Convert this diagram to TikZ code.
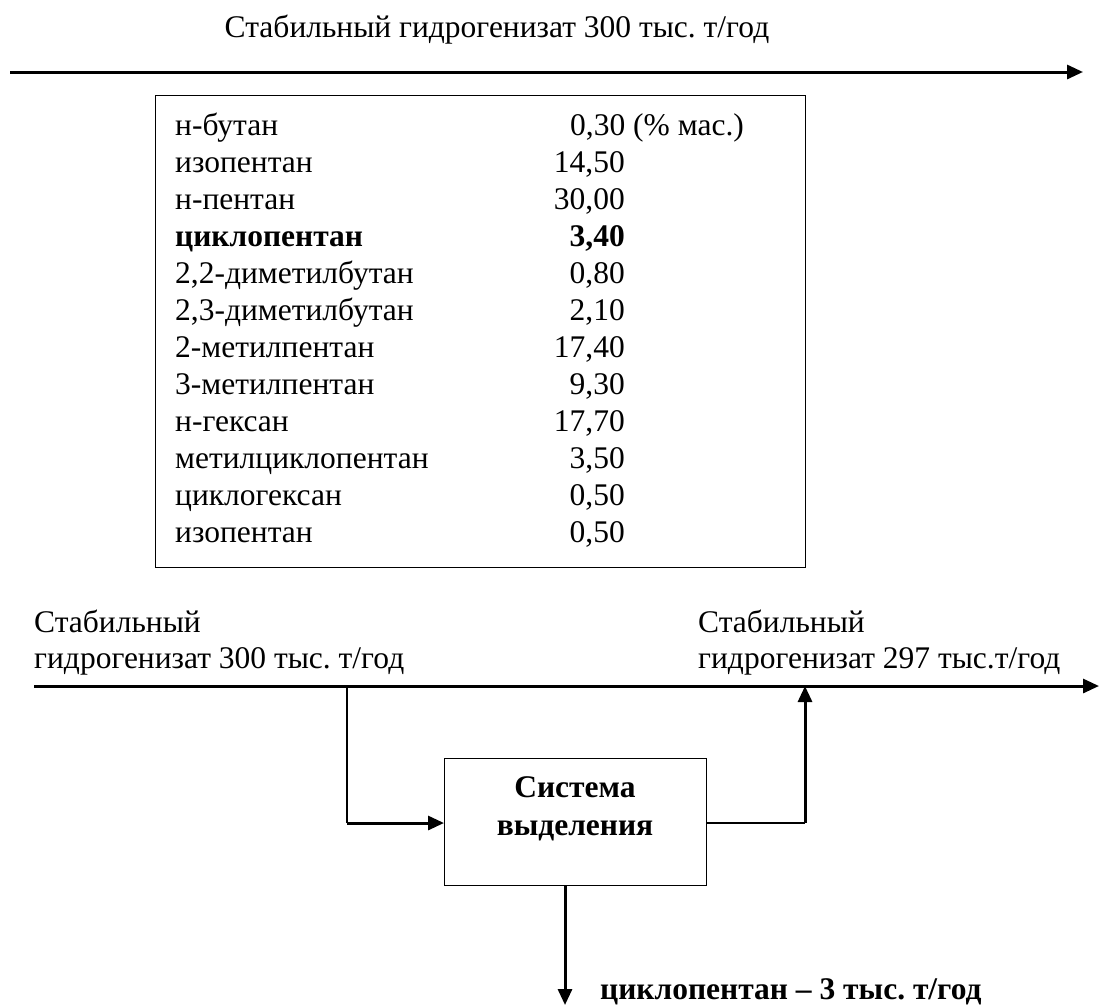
\documentclass[tikz,border=0pt]{standalone}
\usepackage{fontspec}
\setmainfont{Liberation Serif}
\usetikzlibrary{arrows.meta}
\begin{document}
\frenchspacing
\begin{tikzpicture}[x=1pt,y=-1pt,
  txt/.style={inner sep=0pt,font=\fontsize{31.5}{38}\selectfont},
  btxt/.style={inner sep=0pt,font=\fontsize{31.5}{38}\selectfont\bfseries},
  thick line/.style={line width=3pt},
  thin line/.style={line width=1.3pt},
  tip/.style={-{Triangle[length=16pt,width=14pt]}}]
\useasboundingbox (0,0) rectangle (1099,1007);
% top stream
\node[txt,anchor=base] (toplbl) at (497,37) {Стабильный гидрогенизат 300 тыс. т/год};
\coordinate (t0) at (10,72);
\coordinate (t1) at (1083,72);
\draw[thick line,tip] (t0) -- (t1);
% table
\node[draw,line width=1.3pt,minimum width=650pt,minimum height=472pt,anchor=north west,inner sep=0pt] (tab) at (155,95) {};
\node[txt,anchor=base west] (r0) at (175,135) {н-бутан};
\node[txt,anchor=base west] (v0) at (570,135) {0,30 (\% мас.)};
\node[txt,anchor=base west] (r1) at (175,172) {изопентан};
\node[txt,anchor=base east] (v1) at (625,172) {14,50};
\node[txt,anchor=base west] (r2) at (175,209) {н-пентан};
\node[txt,anchor=base east] (v2) at (625,209) {30,00};
\node[btxt,anchor=base west] (r3) at (175,246) {циклопентан};
\node[btxt,anchor=base east] (v3) at (625,246) {3,40};
\node[txt,anchor=base west] (r4) at (175,283) {2,2-диметилбутан};
\node[txt,anchor=base east] (v4) at (625,283) {0,80};
\node[txt,anchor=base west] (r5) at (175,320) {2,3-диметилбутан};
\node[txt,anchor=base east] (v5) at (625,320) {2,10};
\node[txt,anchor=base west] (r6) at (175,357) {2-метилпентан};
\node[txt,anchor=base east] (v6) at (625,357) {17,40};
\node[txt,anchor=base west] (r7) at (175,394) {3-метилпентан};
\node[txt,anchor=base east] (v7) at (625,394) {9,30};
\node[txt,anchor=base west] (r8) at (175,431) {н-гексан};
\node[txt,anchor=base east] (v8) at (625,431) {17,70};
\node[txt,anchor=base west] (r9) at (175,468) {метилциклопентан};
\node[txt,anchor=base east] (v9) at (625,468) {3,50};
\node[txt,anchor=base west] (r10) at (175,505) {циклогексан};
\node[txt,anchor=base east] (v10) at (625,505) {0,50};
\node[txt,anchor=base west] (r11) at (175,542) {изопентан};
\node[txt,anchor=base east] (v11) at (625,542) {0,50};
% bottom stream
\node[txt,anchor=base west] (l1) at (34,632) {Стабильный};
\node[txt,anchor=base west] (l2) at (34,668) {гидрогенизат 300 тыс. т/год};
\node[txt,anchor=base west] (m1) at (698,632) {Стабильный};
\node[txt,anchor=base west] (m2) at (698,668) {гидрогенизат 297 тыс.т/год};
\coordinate (b0) at (34,686);
\coordinate (b1) at (1099,686);
\draw[thick line,tip] (b0) -- (b1);
\node[draw,line width=1.3pt,minimum width=262pt,minimum height=127pt,anchor=north west,inner sep=0pt] (sys) at (444,758) {};
\node[btxt,anchor=base] (sys1) at (575,797) {Система};
\node[btxt,anchor=base] (sys2) at (575,835) {выделения};
\coordinate (s0) at (347,686);
\coordinate (s1) at (347,823);
\draw[thin line] (s0) -- (s1);
\draw[thick line,tip] (s1) -- (sys.west |- s1);
\coordinate (o1) at (805,823);
\coordinate (o2) at (805,686);
\draw[thin line] (sys.east |- o1) -- (o1);
\draw[thick line,tip] (o1) -- (o2);
\coordinate (d1) at (565,1005);
\draw[thick line,tip] (sys.south -| d1) -- (d1);
\node[btxt,anchor=base west] (prod) at (600,999) {циклопентан – 3 тыс. т/год};
\end{tikzpicture}
\end{document}
